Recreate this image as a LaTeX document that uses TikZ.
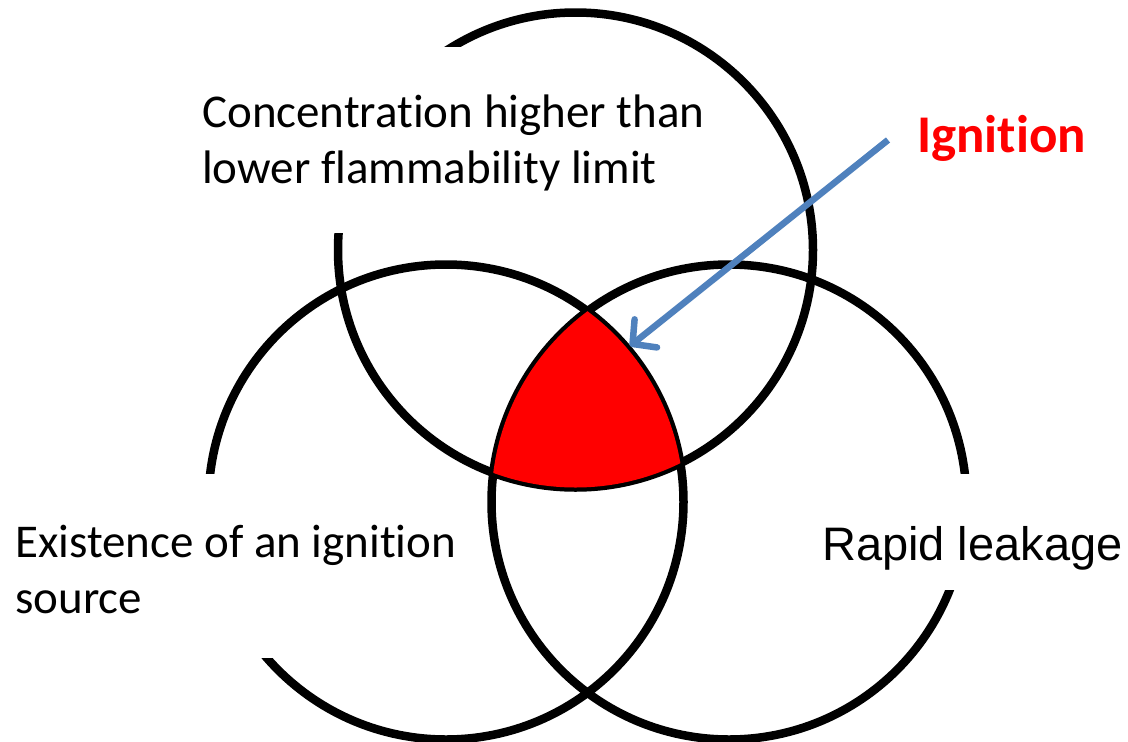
\documentclass[tikz,border=0pt]{standalone}
\usepackage{fontspec}
\setmainfont{Carlito}[Ligatures={CommonOff,ContextualOff,RareOff}, RawFeature={-liga;-clig;-dlig}]
\newfontfamily\arialfont{Liberation Sans}
\usetikzlibrary{arrows.meta}
\definecolor{arrowblue}{HTML}{4F81BD}
\definecolor{ignred}{HTML}{FF0000}
\tikzset{
  ring/.style={draw=black, line width=8.5pt},
  gapmask/.style={fill=white, draw=none},
  label/.style={anchor=base west, inner sep=0pt, font=\fontsize{47}{56}\selectfont},
  pointer/.style={draw=arrowblue, line width=6.5pt, -{Straight Barb[length=17pt,width=36pt,line width=6.5pt,round]}}
}
\begin{document}
\begin{tikzpicture}[x=1pt,y=-1pt]
\useasboundingbox (0,0) rectangle (1128,742);
\fill[white] (0,0) rectangle (1128,742);
% circles
\coordinate (ct) at (575.5,250);
\coordinate (cl) at (446,502);
\coordinate (cr) at (729,502);
\draw[ring] (ct) circle[radius=237.5pt];
\draw[ring] (cl) circle[radius=237.5pt];
\draw[ring] (cr) circle[radius=237.5pt];
% red intersection
\begin{scope}
  \clip (ct) circle[radius=237.5pt];
  \clip (cl) circle[radius=237.5pt];
  \fill[ignred] (cr) circle[radius=237.5pt];
\end{scope}
% gaps where the text boxes sit
\fill[gapmask] (290,47) rectangle (470,233);
\fill[gapmask] (150,474) rectangle (300,658);
\fill[gapmask] (920,474) rectangle (1010,590);
% texts
\node[label] (t1) at (202,127) {Concentration higher than};
\node[label] (t2) at (202,183) {lower flammability limit};
\node[label] (l1) at (15,557) {Existence of an ignition};
\node[label] (l2) at (15,613) {source};
\node[label, font=\arialfont\fontsize{47}{56}\selectfont] (r1) at (822,560) {Rapid leakage};
\node[anchor=base west, inner sep=0pt, text=ignred, font=\bfseries\fontsize{53}{63}\selectfont] (ign) at (917,152) {Ignition};
% arrow
\coordinate (astart) at (888,140);
\coordinate (aend) at (630,346);
\draw[pointer, line cap=butt] (astart) -- (aend);
\end{tikzpicture}
\end{document}
